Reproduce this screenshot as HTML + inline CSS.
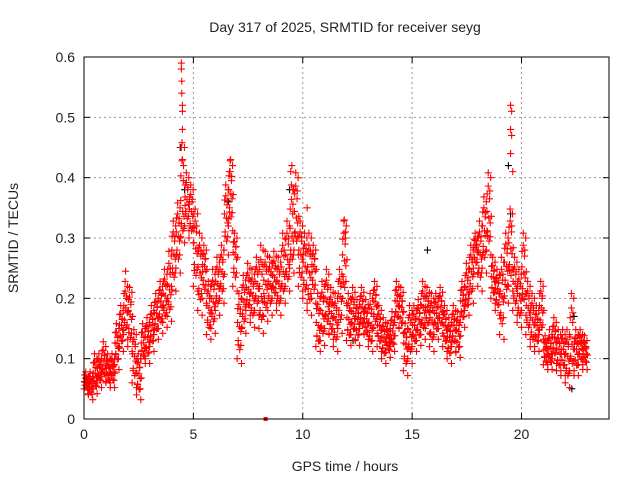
<!DOCTYPE html>
<html><head><meta charset="utf-8"><style>
body{margin:0;background:#fff}
svg{display:block;font-family:"Liberation Sans",sans-serif}
</style></head><body>
<svg id="chart" width="640" height="480">
<rect width="640" height="480" fill="#fff"/>
<text x="345" y="32" text-anchor="middle" font-size="14" fill="#222">Day 317 of 2025, SRMTID for receiver seyg</text>
<text x="345" y="471" text-anchor="middle" font-size="14" fill="#222">GPS time / hours</text>
<text x="18" y="238" text-anchor="middle" font-size="14" fill="#222" transform="rotate(-90 18 238)">SRMTID / TECUs</text>
<g id="grid"></g><g id="marks"></g>
<rect x="84" y="57" width="525" height="362" fill="none" stroke="#000" stroke-width="1"/>
<g id="ticks"></g>
</svg>
<script>
const xTicks=[0,5,10,15,20];
const yTicks=[0,0.1,0.2,0.3,0.4,0.5,0.6];
const yTickLabels=["0","0.1","0.2","0.3","0.4","0.5","0.6"];
const seriesLow=[.05,.04,.05,.06,.07,.06,.06,.09,.12,.14,.12,.06,.04,.10,.10,.12,.14,.15,.16,.17,.22,.25,.30,.32,.30,.22,.18,.20,.14,.15,.18,.20,.28,.32,.22,.10,.15,.18,.16,.18,.15,.17,.18,.20,.18,.20,.22,.25,.28,.22,.20,.18,.20,.12,.13,.15,.14,.12,.15,.20,.13,.14,.13,.15,.14,.12,.15,.12,.10,.11,.12,.16,.15,.08,.10,.12,.13,.14,.15,.12,.14,.15,.12,.10,.12,.11,.16,.18,.20,.25,.22,.25,.28,.20,.18,.14,.20,.22,.18,.16,.18,.14,.12,.12,.14,.09,.09,.10,.08,.08,.06,.08,.08,.09,.09];
const seriesMid=[.06,.055,.07,.08,.09,.08,.08,.12,.15,.18,.17,.10,.07,.12,.13,.15,.17,.19,.20,.21,.27,.30,.34,.36,.34,.28,.24,.25,.18,.19,.22,.24,.33,.37,.27,.15,.19,.21,.20,.22,.20,.22,.22,.23,.22,.24,.26,.30,.33,.27,.25,.24,.25,.15,.17,.19,.17,.16,.20,.26,.16,.17,.16,.18,.16,.15,.19,.15,.13,.13,.14,.19,.18,.12,.14,.15,.16,.18,.18,.16,.17,.18,.15,.13,.15,.14,.19,.21,.24,.28,.27,.31,.33,.23,.21,.20,.25,.28,.22,.20,.24,.18,.16,.15,.18,.11,.11,.13,.11,.11,.10,.12,.11,.12,.11];
const seriesHigh=[.07,.07,.10,.10,.12,.10,.10,.15,.18,.22,.21,.14,.10,.15,.16,.18,.20,.22,.24,.27,.32,.35,.45,.40,.38,.34,.30,.28,.22,.24,.26,.28,.38,.42,.30,.20,.23,.25,.24,.26,.28,.27,.26,.27,.26,.30,.32,.38,.40,.32,.30,.30,.28,.20,.22,.24,.21,.20,.24,.32,.20,.21,.19,.21,.19,.20,.22,.18,.16,.15,.17,.22,.21,.15,.18,.18,.19,.22,.21,.20,.20,.21,.18,.16,.18,.17,.22,.25,.28,.30,.32,.36,.40,.26,.24,.26,.30,.34,.26,.24,.30,.22,.20,.18,.22,.13,.14,.16,.14,.14,.14,.20,.14,.14,.13];
const spikeHours=[4.45,4.45,4.47,4.47,4.5,4.5,4.5,4.45,4.5,9.5,9.45,9.55,19.5,19.55,19.5,19.55,19.5,19.6,11.9,11.95,1.9,10.2,6.7,6.65];
const spikeValues=[.59,.58,.56,.54,.52,.51,.48,.45,.43,.42,.41,.38,.52,.51,.48,.47,.44,.41,.33,.31,.245,.35,.43,.41];
const blackHours=[4.4,4.6,6.6,9.4,15.7,19.4,19.5,22.3,22.4,12.3];
const blackValues=[.45,.38,.36,.38,.28,.42,.34,.05,.17,.13];
const step=0.2;
const X0=84,X1=609,Y0=419,Y1=57,XMAX=24,YMAX=0.6;
const sx=h=>X0+h/XMAX*(X1-X0);
const sy=v=>Y0-v/YMAX*(Y0-Y1);
const NS="http://www.w3.org/2000/svg";
const grid=document.getElementById('grid'),ticks=document.getElementById('ticks'),marks=document.getElementById('marks');
function mk(tag,attrs,parent){const e=document.createElementNS(NS,tag);for(const k in attrs)e.setAttribute(k,attrs[k]);parent.appendChild(e);return e;}
xTicks.forEach(t=>{const x=sx(t);
 if(t>0){const g=mk('line',{x1:x,x2:x,y1:Y1,y2:Y0,stroke:'#999','stroke-dasharray':'2,3'},grid);
 
 }
 mk('line',{x1:x,x2:x,y1:Y0,y2:Y0-6,stroke:'#000'},ticks);mk('line',{x1:x,x2:x,y1:Y1,y2:Y1+6,stroke:'#000'},ticks);
 const l=mk('text',{x:x,y:Y0+20,'text-anchor':'middle','font-size':14,fill:'#222'},ticks);l.textContent=t;
 
 });
yTicks.forEach((t,i)=>{const y=sy(t);
 if(t>0&&t<YMAX){const g=mk('line',{x1:X0,x2:X1,y1:y,y2:y,stroke:'#999','stroke-dasharray':'2,3'},grid);
 
 }
 mk('line',{x1:X0,x2:X0+6,y1:y,y2:y,stroke:'#000'},ticks);mk('line',{x1:X1,x2:X1-6,y1:y,y2:y,stroke:'#000'},ticks);
 const l=mk('text',{x:X0-9,y:y+5,'text-anchor':'end','font-size':14,fill:'#222'},ticks);l.textContent=yTickLabels[i];
 
 });
function plus(h,v,col,name){const x=sx(h),y=sy(v);
 const p=mk('path',{d:`M${x-3.5} ${y}h7M${x} ${y-3.5}v7`,stroke:col,'stroke-width':1.1,fill:'none'},marks);
 
 }
blackHours.forEach((h,i)=>plus(h,blackValues[i],'#000','black-point'));
const fr=[0,0.15,0.3,0.45,0.6,0.75,0.9,1];
const off=[0.0,0.12,0.05,0.17,0.02,0.14,0.08,0.19];
seriesLow.forEach((v,i)=>{const t=i*step,m=seriesMid[i],hi=seriesHigh[i];
 fr.forEach((f,k)=>{
  const val=f<0.5?v+(m-v)*f*2:m+(hi-m)*(f-0.5)*2;
  plus(t+off[k],val,'#f00','srmtid-point');
  plus(t+off[(k+3)%8]+0.03,val+(k%2?0.008:-0.008),'#f00','srmtid-point');
 });});
spikeHours.forEach((h,i)=>plus(h,spikeValues[i],'#f00','spike-point'));
const sq=mk('rect',{x:sx(8.3)-2,y:Y0-2,width:4,height:4,fill:'#f00'},marks);


</script>
</body></html>
